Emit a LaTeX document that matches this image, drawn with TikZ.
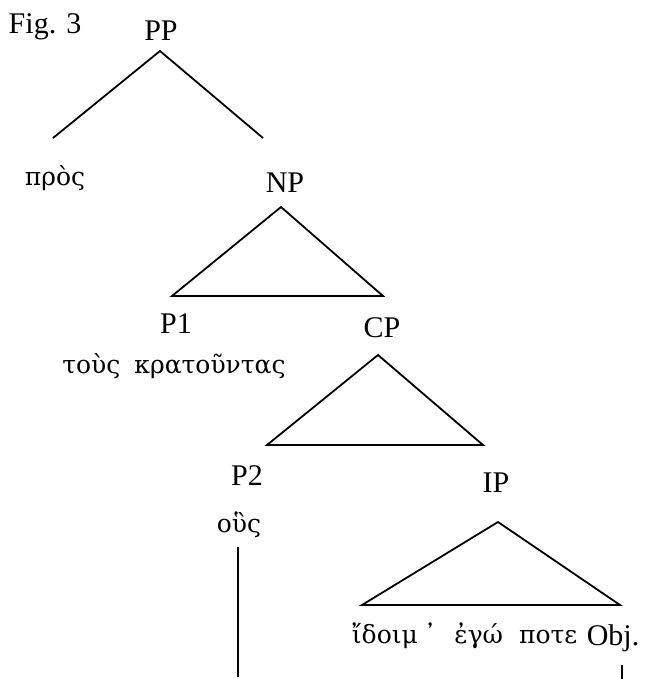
\documentclass[tikz,border=0pt]{standalone}
\usepackage{fontspec}
\setmainfont{Liberation Serif}
\newfontfamily\greekfont{DejaVu Serif}
\begin{document}
\begin{tikzpicture}[x=1pt,y=-1pt,line width=1.8pt,line join=miter,
  lab/.style={font=\fontsize{30}{36}\selectfont, inner sep=0pt, anchor=base},
  grk/.style={font=\greekfont\fontsize{25}{30}\selectfont, inner sep=0pt, anchor=base}]
\useasboundingbox (0,0) rectangle (657,679);
% labels
\node[lab] (fig) at (45,34) {Fig. 3};
\node[lab] (pp) at (161,41) {PP};
\node[grk] (pros) at (55,185) {πρὸς};
\node[lab] (np) at (285,193) {NP};
\node[lab] (p1) at (176,333) {P1};
\node[grk] (tous) at (174,373) {τοὺς\hspace{14pt}κρατοῦντας};
\node[lab] (cp) at (382,337) {CP};
\node[lab] (p2) at (247,485) {P2};
\node[grk] (hous) at (239,532) {οὓς};
\node[lab] (ip) at (496,492) {IP};
\node[grk,anchor=base west] (idoim) at (351,643) {ἴδοιμ\hspace{6pt}᾽\hspace{18pt}ἐγώ\hspace{16pt}ποτε};
\node[lab] (obj) at (613,645) {Obj.};
% branch points
\coordinate (ppA) at (160,51);
\coordinate (ppL) at (53,138);
\coordinate (ppR) at (263,138);
\coordinate (npA) at (281,207);
\coordinate (npL) at (172,296);
\coordinate (npR) at (383,296);
\coordinate (cpA) at (378,355);
\coordinate (cpL) at (267,445);
\coordinate (cpR) at (483,445);
\coordinate (ipA) at (498,522);
\coordinate (ipL) at (362,605);
\coordinate (ipR) at (620,605);
\coordinate (vT) at (238,547);
\coordinate (vB) at (238,677);
\coordinate (tT) at (622,665);
\coordinate (tB) at (622,679);
% connectors
\draw (ppL) -- (ppA) -- (ppR);
\draw (npA) -- (npL) -- (npR) -- cycle;
\draw (cpA) -- (cpL) -- (cpR) -- cycle;
\draw (ipA) -- (ipL) -- (ipR) -- cycle;
\draw (vT) -- (vB);
\draw[line width=1.4pt] (tT) -- (tB);
\end{tikzpicture}
\end{document}
